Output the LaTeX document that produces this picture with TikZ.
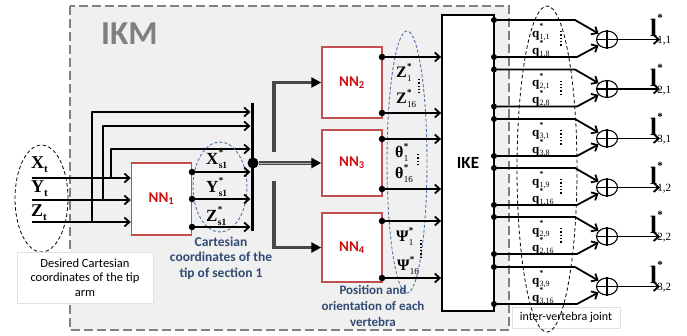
\documentclass[tikz,border=0pt]{standalone}
\usepackage{fontspec}
\setmainfont{Carlito}
\newfontfamily\tms{Liberation Serif}
\usetikzlibrary{arrows.meta,shapes.geometric}
\definecolor{ikmfill}{RGB}{240,240,240}
\definecolor{ikmgray}{RGB}{128,128,128}
\definecolor{nnred}{RGB}{192,80,77}
\definecolor{nntext}{RGB}{204,16,16}
\definecolor{lblue}{RGB}{50,75,115}
\definecolor{eblue}{RGB}{80,115,170}
\definecolor{branch}{RGB}{72,72,72}
% base, sub, star size, star raise, sub size, sub raise
\newcommand{\stk}[6]{#1\kern0.3pt\rlap{\raisebox{#4}{\fontsize{#3}{#3}\selectfont *}}\raisebox{#6}{\fontsize{#5}{#5}\selectfont #2}}
\newcommand{\sbx}[4]{#1\raisebox{#4}{\fontsize{#3}{#3}\selectfont #2}}
\tikzset{
  ar/.style={line width=1.8pt, line join=round, -{Straight Barb[length=5pt,width=9pt]}},
  brl/.style={draw=branch, line width=3.5pt, -{Triangle[length=10pt,width=10pt,color=black]}},
  nnbox/.style={draw=nnred, line width=1.5pt, fill=white, inner sep=0, minimum width=60pt,
     text=nntext, font=\bfseries\fontsize{15}{15}\selectfont},
  dot/.style={circle, fill=black, inner sep=0, minimum size=6.5pt},
  lab/.style={anchor=base west, inner sep=0},
  inlab/.style={lab, font=\tms\bfseries\fontsize{18}{18}\selectfont},
  slab/.style={lab, font=\tms\bfseries\fontsize{17}{17}\selectfont},
  zlab/.style={lab, font=\tms\bfseries\fontsize{16}{16}\selectfont},
  qlab/.style={lab, font=\tms\bfseries\fontsize{13}{13}\selectfont},
  llab/.style={lab, font=\tms\bfseries\fontsize{25}{25}\selectfont},
  oplus/.style={ellipse, draw, line width=1.1pt, fill=white, inner sep=0, minimum width=21pt, minimum height=17pt},
  bluee/.style={draw=eblue, line width=0.9pt, dash pattern=on 3pt off 2pt},
  blacke/.style={draw=black, line width=0.8pt, dash pattern=on 3.5pt off 2.5pt},
  dotm/.style={dotted, line width=1.3pt},
  capbox/.style={draw=black!12, fill=white, inner sep=0, align=center},
  bluetxt/.style={text=lblue, align=center, font=\bfseries\fontsize{13.5}{15.5}\selectfont}
}
\begin{document}
\begin{tikzpicture}[x=1pt,y=-1pt]
\useasboundingbox (0,0) rectangle (687,335);
\fill[white] (0,0) rectangle (687,335);
% IKM container
\draw[ikmgray, fill=ikmfill, line width=2.8pt, dash pattern=on 9pt off 4pt] (70,6) rectangle (509,330);
\node[lab, font=\bfseries\fontsize{33.5}{33.5}\selectfont, text=ikmgray] (ikm) at (101,44) {IKM};

% left inputs
\draw[blacke] (41.5,198.5) ellipse [x radius=26.5pt, y radius=53.5pt];
\node[capbox, minimum width=136pt, minimum height=51pt, font=\fontsize{12.5}{14.5}\selectfont] (desired) at (85,277.5) {Desired Cartesian\\coordinates of the tip\\arm};
\node[inlab] (xt) at (31,168) {\sbx{X}{t}{11}{-4pt}};
\node[inlab] (yt) at (31,192) {\sbx{Y}{t}{11}{-4pt}};
\node[inlab] (zt) at (31,216) {\sbx{Z}{t}{11}{-4pt}};

\node[nnbox, minimum height=72pt] (nn1) at (161.5,199) {NN\textsubscript{1}};
\coordinate (inx) at (32,178);
\coordinate (iny) at (32,200);
\coordinate (inz) at (32,222);
\draw[ar] (inx) -- (inx -| nn1.west);
\draw[ar] (iny) -- (iny -| nn1.west);
\draw[ar] (inz) -- (inz -| nn1.west);

% feedback lines to bar
\coordinate (bartop) at (252,103);
\coordinate (barbot) at (252,231);
\coordinate (fx) at (111,178);
\coordinate (fy) at (103,200);
\coordinate (fz) at (92,222);
\coordinate (fxe) at (250.5,149);
\coordinate (fye) at (250.5,126);
\coordinate (fze) at (250.5,112);
\draw[ar] (fx) |- (fxe);
\draw[ar] (fy) |- (fye);
\draw[ar] (fz) |- (fze);

% NN1 outputs
\draw[bluee] (220,187) ellipse [x radius=27pt, y radius=45pt];
\node[dot] (o1a) at (192,172) {};
\node[dot] (o1b) at (192,199) {};
\node[dot] (o1c) at (192,227) {};
\coordinate (e1a) at (250.5,172);
\coordinate (e1b) at (250.5,199);
\coordinate (e1c) at (250.5,227);
\draw[ar] (o1a) -- (e1a);
\draw[ar] (o1b) -- (e1b);
\draw[ar] (o1c) -- (e1c);
\node[slab] (xs) at (206,164) {\stk{X}{s1}{9}{9pt}{9.5}{-4.5pt}};
\node[slab] (ys) at (206,192) {\stk{Y}{s1}{9}{9pt}{9.5}{-4.5pt}};
\node[slab] (zs) at (206,221) {\stk{Z}{s1}{9}{9pt}{9.5}{-4.5pt}};
\draw[line width=3pt] (bartop) -- (barbot);
\node[bluetxt] (cart) at (221,258) {Cartesian\\coordinates of the\\tip of section 1};

% hub and branches
\node[circle, fill=black, inner sep=0, minimum size=11pt] (hub) at (253,163) {};
\node[nnbox, minimum height=71pt] (nn2) at (352,82.5) {NN\textsubscript{2}};
\node[nnbox, minimum height=66pt] (nn3) at (352,163) {NN\textsubscript{3}};
\node[nnbox, minimum height=69pt] (nn4) at (352,247.5) {NN\textsubscript{4}};
\coordinate (brup) at (274,152);
\coordinate (brdn) at (274,181);
\draw[brl] (brup) |- (nn2.west);
\draw[brl] (brdn) |- (nn4.west);
\draw[brl] (hub) -- (nn3.west);
\draw[gray!60, line width=0.9pt, shorten >=10pt] (hub) -- (nn3.west);

% IKE
\node[draw, line width=1.8pt, fill=white, minimum width=52pt, minimum height=296pt, inner sep=0,
  font=\bfseries\fontsize{17}{17}\selectfont] (ike) at (468,163) {IKE};

% NN2..4 outputs
\draw[bluee] (407,162) ellipse [x radius=20pt, y radius=131pt];
\foreach \n/\ya in {2a/57, 2c/113, 3a/139, 3c/189, 4a/221, 4c/278}{
  \node[dot] (o\n) at (382,\ya) {};
  \draw[ar] (o\n) -- (o\n -| ike.west);
}
\node[zlab] (z1) at (396,77) {\stk{Z}{\mdseries 1}{9}{8pt}{9}{-4.5pt}};
\node[zlab] (z16) at (396,103) {\stk{Z}{\mdseries 16}{9}{8pt}{9}{-4.5pt}};
\draw[dotm] (419,79) -- (419,93);
\node[zlab] (t1) at (395,157) {\stk{θ}{\mdseries 1}{9}{8pt}{9}{-4.5pt}};
\node[zlab] (t16) at (395,178) {\stk{θ}{\mdseries 16}{9}{8pt}{9}{-4.5pt}};
\draw[dotm] (418,154) -- (418,166);
\node[zlab] (p1) at (396,241) {\stk{Ψ}{\mdseries 1}{9}{8pt}{9}{-4.5pt}};
\node[zlab] (p16) at (397,270) {\stk{Ψ}{\mdseries 16}{9}{8pt}{9}{-4.5pt}};
\draw[dotm] (421,240) -- (421,257);
\node[bluetxt, font=\bfseries\fontsize{13}{16}\selectfont] (pos) at (373,306) {Position and\\orientation of each\\vertebra};

% right side
\node[capbox, minimum width=108pt, minimum height=21pt, font=\fontsize{12}{12}\selectfont] (inter) at (566,317.5) {inter-vertebra joint};
\draw[blacke] (547,169) ellipse [x radius=30pt, y radius=163pt];
\foreach \i/\T/\B/\ls/\qa/\qb in {1/20/57/{1,1}/{1,1}/{1,8}, 2/69.5/106.5/{2,1}/{2,1}/{2,8}, 3/119/156/{3,1}/{3,1}/{3,8}, 4/168/205/{1,2}/{1,9}/{1,16}, 5/217/254/{2,2}/{2,9}/{2,16}, 6/267/304/{3,2}/{3,9}/{3,16}}{
  \pgfmathsetmacro\C{(\T+\B)/2+1}
  \node[dot, minimum size=6pt] (a\i) at (494,\T) {};
  \node[dot, minimum size=6pt] (b\i) at (494,\B) {};
  \coordinate (ka\i) at (575,\T);
  \coordinate (kb\i) at (577,\B);
  \node[oplus] (op\i) at (607,\C) {};
  \draw[line width=1.1pt] (op\i.north) -- (op\i.south) (op\i.west) -- (op\i.east);
  \draw[ar] (a\i) -- (ka\i) -- (op\i.145);
  \draw[ar] (b\i) -- (kb\i) -- (op\i.215);
  \coordinate (oe\i) at (660,\C);
  \draw[ar] (op\i.east) -- (oe\i);
  \node[llab] (l\i) at (650,\C-3) {\stk{l}{\mdseries \ls}{11}{15pt}{11}{-7pt}};
  \node[qlab] (qa\i) at (532,\T+17) {\stk{q}{\mdseries \qa}{7.5}{8.5pt}{8}{-2pt}};
  \node[qlab] (qb\i) at (532,\B-3) {\stk{q}{\mdseries \qb}{7.5}{8.5pt}{8}{-2pt}};
}
\foreach \T in {20,69.5,119,168,217}{
  \draw[dotm] (561,\T+11) -- (561,\T+26);
}
\end{tikzpicture}
\end{document}
